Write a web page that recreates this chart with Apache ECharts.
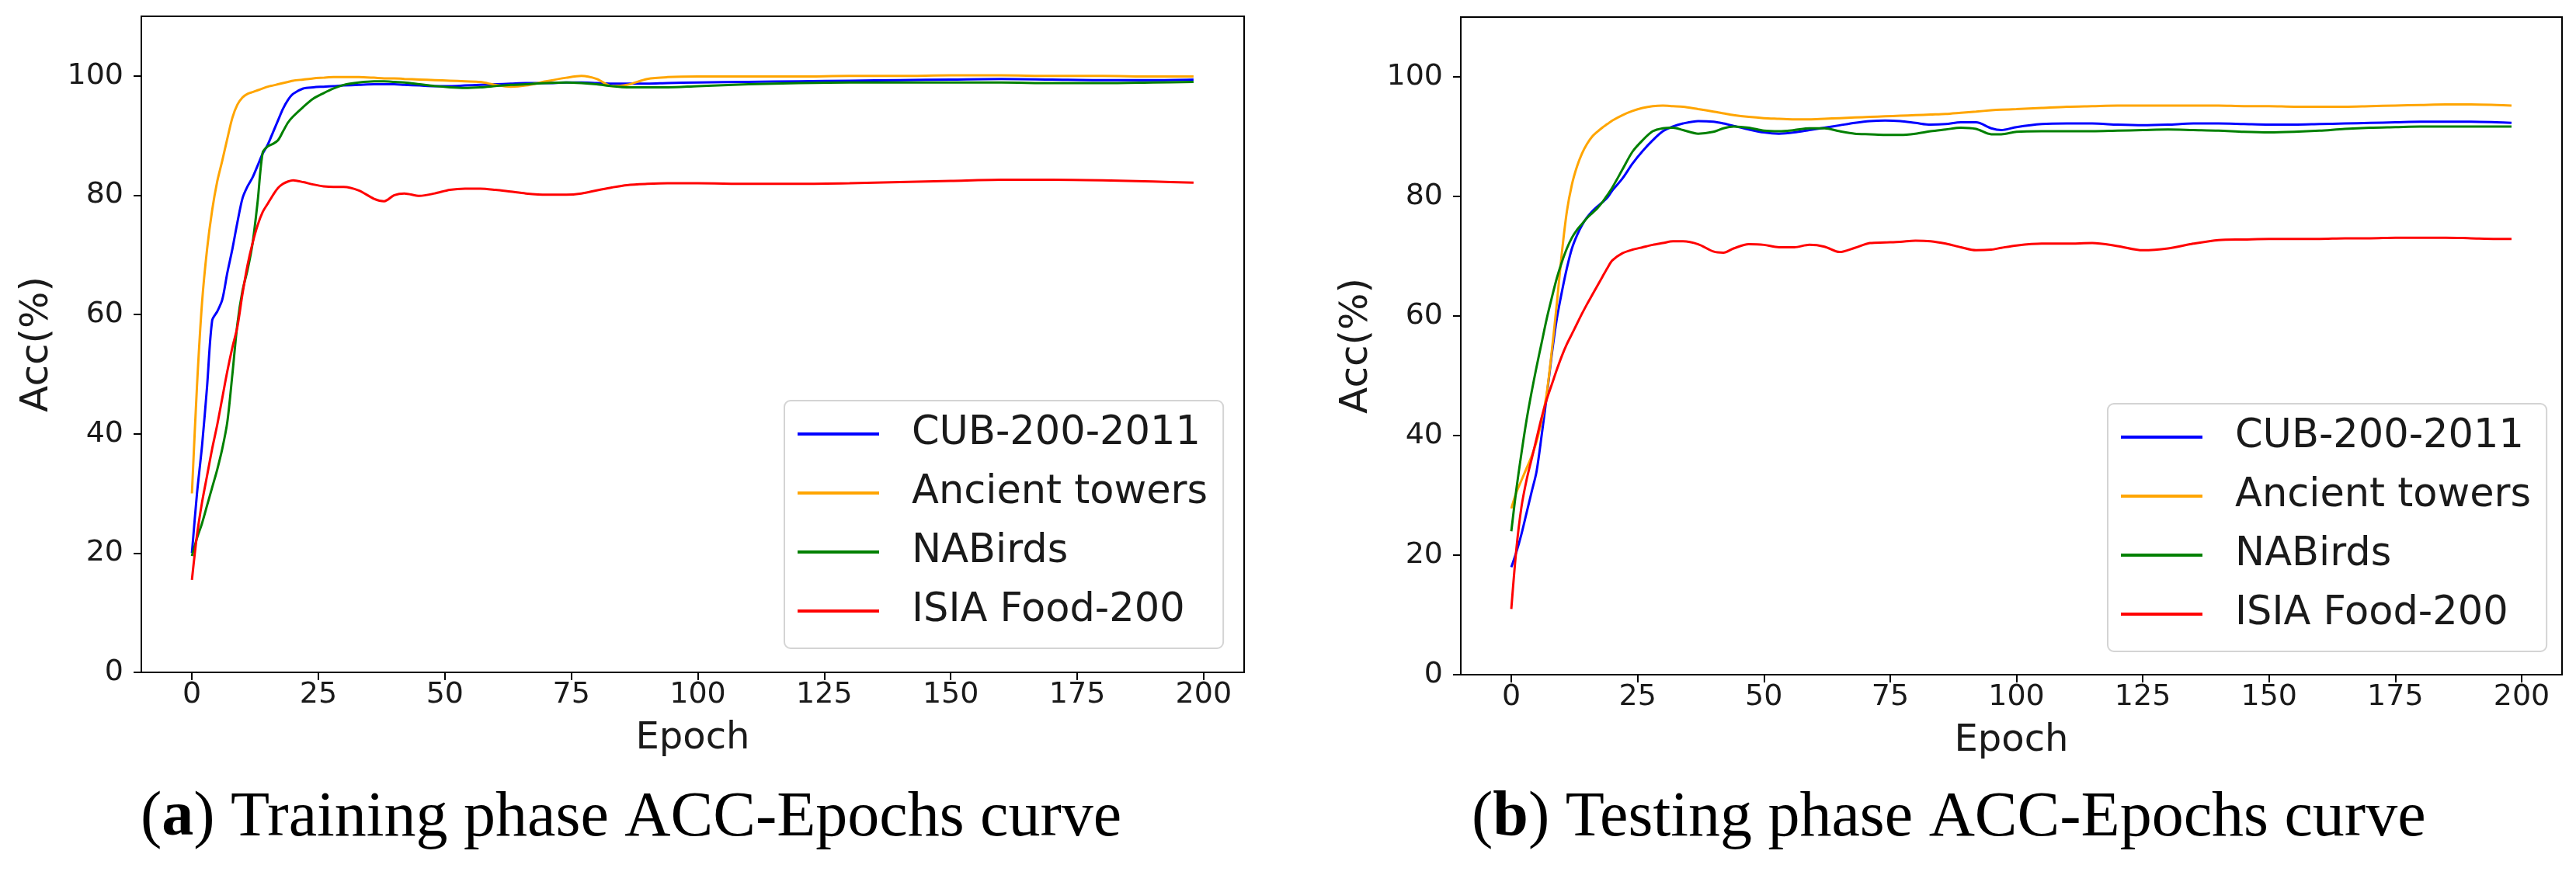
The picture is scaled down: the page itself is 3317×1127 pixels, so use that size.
<!DOCTYPE html>
<html>
<head>
<meta charset="utf-8">
<script src="https://cdn.jsdelivr.net/npm/echarts@6/dist/echarts.min.js"></script>
<style>
html,body{margin:0;padding:0;background:#fff;}
#chart{width:3317px;height:1127px;}
</style>
</head>
<body>
<div id="chart"></div>
<script>
// ---------- DATA ----------
const seriesNames = ['CUB-200-2011', 'Ancient towers', 'NABirds', 'ISIA Food-200'];
const xTicks = [0, 25, 50, 75, 100, 125, 150, 175, 200];
const yTicks = [0, 20, 40, 60, 80, 100];

// Training phase
const trainEpochs = [0,1,2,3,4,5,6,7,8,9,10,11,12,13,14,15,16,17,18,19,20,22,24,26,28,30,33,36,38,40,42,45,48,51,54,57,60,63,66,70,74,77,80,83,86,90,94,100,110,120,130,140,150,160,170,180,190,198];
const trainCUB = [20,30,38,48,59,60.5,62.5,67,71,75.5,79.5,81.5,83,85,87,88.5,90.5,92.5,94.5,96,97,97.9,98.1,98.2,98.3,98.4,98.5,98.6,98.6,98.6,98.5,98.4,98.3,98.3,98.4,98.5,98.6,98.7,98.8,98.8,98.9,98.9,98.8,98.7,98.7,98.7,98.8,98.9,99.0,99.1,99.2,99.3,99.4,99.5,99.4,99.3,99.3,99.4];
const trainTowers = [30,48,62,71,77.5,82.3,85.8,89.5,93,95.2,96.4,97,97.3,97.6,97.9,98.2,98.4,98.6,98.8,99.0,99.2,99.4,99.6,99.7,99.8,99.8,99.8,99.7,99.6,99.6,99.5,99.4,99.3,99.2,99.1,99.0,98.5,98.2,98.4,99.1,99.7,100.0,99.5,98.3,98.5,99.5,99.8,99.9,99.9,99.9,100,100,100.1,100.1,100,100,99.9,99.9];
const trainNABirds = [19.5,22.5,25,28,31,34,37.5,42,50,58.5,64,67.5,72,79,87.2,88.2,88.6,89.2,90.7,92.2,93.2,94.8,96.2,97.1,97.9,98.5,98.9,99.1,99.1,99.0,98.9,98.6,98.3,98.1,98.0,98.1,98.3,98.5,98.6,98.8,98.9,98.8,98.6,98.3,98.1,98.1,98.1,98.3,98.6,98.8,98.9,98.9,98.9,98.9,98.8,98.8,98.9,99.0];
const trainISIA = [15.5,23,28.5,33,37.5,41.5,46,50.5,54.5,58,63.5,68.3,72,75,77.2,78.6,80,81.2,81.9,82.3,82.5,82.2,81.8,81.5,81.4,81.4,80.8,79.4,79.0,80.0,80.3,79.9,80.3,80.9,81.1,81.1,80.9,80.6,80.3,80.1,80.1,80.3,80.8,81.3,81.7,81.9,82.0,82.0,81.9,81.9,82.0,82.2,82.4,82.6,82.6,82.5,82.3,82.1];

// Testing phase
const testEpochs = [0,1,2,3,4,5,6,7,8,9,10,11,12,13,14,15,16,17,18,19,20,22,24,26,28,30,32,34,37,40,42,44,47,50,53,56,59,62,65,68,71,74,77,80,83,86,89,92,95,97,100,105,110,115,120,125,130,135,140,145,150,155,160,165,170,175,180,185,190,195,198];
const testCUB = [18,20.5,23.5,27,30.5,34,40,46.5,53.5,59.5,64,68,71.3,73.5,75.2,76.5,77.5,78.3,79,79.8,81,83,85.5,87.6,89.4,90.9,91.7,92.2,92.6,92.5,92.2,91.8,91.2,90.7,90.5,90.7,91.1,91.5,91.9,92.3,92.6,92.7,92.6,92.3,92.0,92.1,92.4,92.4,91.4,91.1,91.6,92.1,92.2,92.2,92.0,91.9,92.0,92.2,92.2,92.1,92.0,92.0,92.1,92.2,92.3,92.4,92.5,92.5,92.5,92.4,92.3];
const testTowers = [27.8,30.5,32.5,34.5,36.5,39,42.5,47,54,62,70.5,77.5,82,85,87.2,88.8,90,90.8,91.5,92.1,92.7,93.6,94.3,94.8,95.1,95.2,95.1,95.0,94.6,94.2,93.9,93.6,93.3,93.1,93.0,92.9,92.9,93.0,93.1,93.2,93.3,93.4,93.5,93.6,93.7,93.8,94.0,94.2,94.4,94.5,94.6,94.8,95.0,95.1,95.2,95.2,95.2,95.2,95.2,95.1,95.1,95.0,95.0,95.0,95.1,95.2,95.3,95.4,95.4,95.3,95.2];
const testNABirds = [24,31,37,42.5,47.2,51.5,55.5,59.5,63,66.3,69,71.3,73.1,74.4,75.4,76.4,77.2,78,79,80.2,81.5,84.5,87.5,89.4,90.9,91.4,91.5,91.1,90.5,90.8,91.4,91.7,91.5,91.0,90.9,91.1,91.4,91.4,90.9,90.5,90.4,90.3,90.3,90.5,90.9,91.2,91.5,91.3,90.4,90.4,90.8,90.9,90.9,90.9,91.0,91.1,91.2,91.1,91.0,90.8,90.7,90.8,91.0,91.3,91.5,91.6,91.7,91.7,91.7,91.7,91.7];
const testISIA = [11,21,28,32.5,36,39.5,43,46,48.5,51,53.3,55.3,57,58.7,60.4,62,63.5,65,66.5,68,69.3,70.5,71.1,71.5,71.9,72.2,72.5,72.5,72.0,70.8,70.6,71.3,72.0,71.9,71.5,71.5,71.9,71.6,70.7,71.4,72.2,72.3,72.4,72.6,72.5,72.1,71.5,71.0,71.1,71.4,71.8,72.1,72.1,72.2,71.7,71.0,71.3,72.1,72.7,72.8,72.9,72.9,72.9,73.0,73.0,73.1,73.1,73.1,73.0,72.9,72.9];

const colors = ['#0000ff', '#ffa500', '#008000', '#ff0000'];

// ---------- BUILD ----------
const zip = (xs, ys) => xs.map((x, i) => [x, ys[i]]);
const FONT = 'DejaVu Sans';
const TXT = '#1a1a1a';

function xAxisFor(gi) {
  return {
    gridIndex: gi, type: 'value', min: -10, max: 208,
    name: 'Epoch', nameLocation: 'middle', nameGap: 62,
    nameTextStyle: { fontFamily: FONT, fontSize: 48, color: TXT },
    axisLine: { show: true, onZero: false, lineStyle: { color: '#000', width: 2 } },
    axisTick: { show: true, inside: false, length: 10, customValues: xTicks, lineStyle: { color: '#000', width: 2 } },
    axisLabel: { customValues: xTicks, fontFamily: FONT, fontSize: 38, color: TXT, margin: 10 },
    splitLine: { show: false }
  };
}
function yAxisFor(gi) {
  return {
    gridIndex: gi, type: 'value', min: 0, max: 110,
    name: 'Acc(%)', nameLocation: 'middle', nameGap: 109,
    nameTextStyle: { fontFamily: FONT, fontSize: 50, color: TXT },
    axisLine: { show: true, onZero: false, lineStyle: { color: '#000', width: 2 } },
    axisTick: { show: true, inside: false, length: 10, customValues: yTicks, lineStyle: { color: '#000', width: 2 } },
    axisLabel: { customValues: yTicks, fontFamily: FONT, fontSize: 38, color: TXT, margin: 23 },
    splitLine: { show: false }
  };
}
function legendFor(left, top) {
  return {
    data: seriesNames, orient: 'vertical', left: left, top: top,
    icon: 'rect', itemWidth: 105, itemHeight: 4, itemGap: 20,
    padding: [15, 20, 20, 17],
    backgroundColor: '#fff', borderColor: '#d4d4d4', borderWidth: 2, borderRadius: 8,
    textStyle: { fontFamily: FONT, fontSize: 51, color: TXT, lineHeight: 56, padding: [0, 0, 0, 37] }
  };
}

const trainSets = [trainCUB, trainTowers, trainNABirds, trainISIA];
const testSets = [testCUB, testTowers, testNABirds, testISIA];
const series = [];
trainSets.forEach((vals, i) => series.push({
  name: seriesNames[i], type: 'line', xAxisIndex: 0, yAxisIndex: 0,
  data: zip(trainEpochs, vals), showSymbol: false, smooth: 0.3,
  lineStyle: { color: colors[i], width: 3 }, itemStyle: { color: colors[i] }, z: 3
}));
testSets.forEach((vals, i) => series.push({
  name: seriesNames[i], type: 'line', xAxisIndex: 1, yAxisIndex: 1,
  data: zip(testEpochs, vals), showSymbol: false, smooth: 0.3,
  lineStyle: { color: colors[i], width: 3 }, itemStyle: { color: colors[i] }, z: 3
}));

const capStyle = {
  fontWeight: 'normal',
  rich: {
    p: { fontFamily: 'Liberation Serif', fontSize: 82, fontWeight: 'normal', color: '#000' },
    b: { fontFamily: 'Liberation Serif', fontSize: 82, fontWeight: 'bold', color: '#000' }
  }
};

const option = {
  backgroundColor: '#fff',
  animation: false,
  color: colors,
  title: [
    { text: '{p|(}{b|a}{p|) Training phase ACC-Epochs curve}', left: 181, top: 1013, padding: 0, textStyle: capStyle },
    { text: '{p|(}{b|b}{p|) Testing phase ACC-Epochs curve}', left: 1895, top: 1013, padding: 0, textStyle: capStyle }
  ],
  grid: [
    { left: 182, top: 21, width: 1420, height: 845, show: true, borderColor: '#000', borderWidth: 2, backgroundColor: 'transparent' },
    { left: 1881, top: 22, width: 1418, height: 847, show: true, borderColor: '#000', borderWidth: 2, backgroundColor: 'transparent' }
  ],
  xAxis: [xAxisFor(0), xAxisFor(1)],
  yAxis: [yAxisFor(0), yAxisFor(1)],
  legend: [legendFor(1010, 516), legendFor(2714, 520)],
  series: series
};

const chart = echarts.init(document.getElementById('chart'), null, { renderer: 'canvas' });
chart.setOption(option);
</script>
</body>
</html>
